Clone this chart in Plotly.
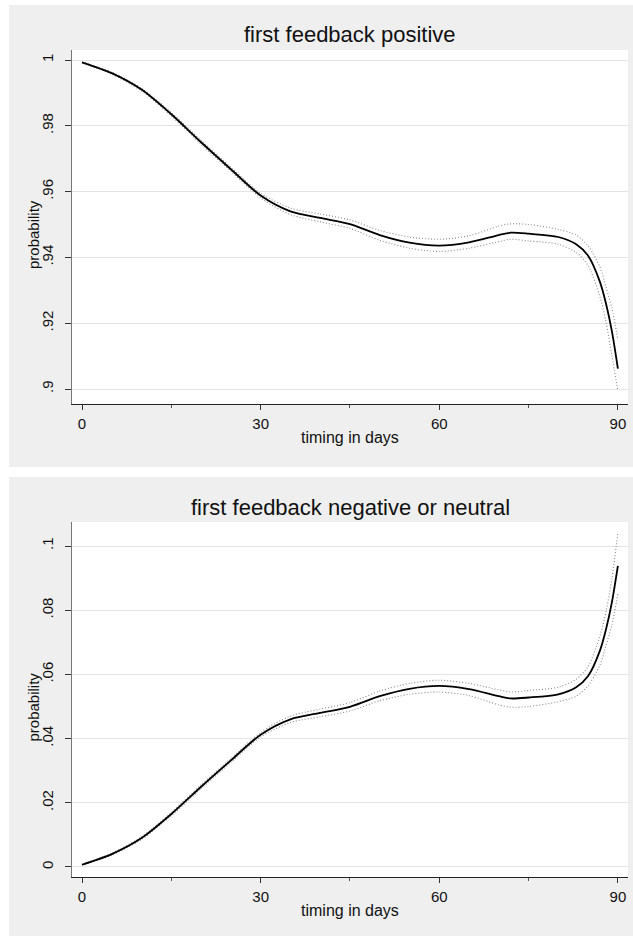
import plotly.graph_objects as go

# ---------------- data ----------------
days = [0, 5, 10, 15, 20, 25, 30, 35, 40, 45, 50, 55, 60, 65, 70, 72, 75, 80, 83, 85, 87, 88, 89, 90]

pos_fit = [0.9993, 0.9960, 0.9910, 0.9835, 0.9750, 0.9668, 0.9588, 0.9540, 0.9520, 0.9501, 0.9468, 0.9445,
           0.9436, 0.9446, 0.9468, 0.9475, 0.9472, 0.9462, 0.9440, 0.9405, 0.9325, 0.9260, 0.9175, 0.9062]
pos_hi = [0.9994, 0.9963, 0.9914, 0.9840, 0.9756, 0.9674, 0.9595, 0.9550, 0.9532, 0.9514, 0.9482, 0.9462,
          0.9455, 0.9466, 0.9495, 0.9502, 0.9500, 0.9485, 0.9468, 0.9435, 0.9370, 0.9310, 0.9245, 0.9150]
pos_lo = [0.9992, 0.9957, 0.9906, 0.9830, 0.9744, 0.9662, 0.9581, 0.9530, 0.9508, 0.9488, 0.9452, 0.9428,
          0.9418, 0.9428, 0.9448, 0.9455, 0.9450, 0.9440, 0.9415, 0.9375, 0.9280, 0.9205, 0.9100, 0.8995]

neg_fit = [0.0007, 0.0040, 0.0090, 0.0165, 0.0250, 0.0332, 0.0412, 0.0460, 0.0480, 0.0499, 0.0532, 0.0555,
           0.0564, 0.0554, 0.0532, 0.0525, 0.0528, 0.0538, 0.0560, 0.0595, 0.0675, 0.0740, 0.0825, 0.0938]
neg_hi = [0.0008, 0.0043, 0.0094, 0.0170, 0.0256, 0.0338, 0.0419, 0.0470, 0.0492, 0.0512, 0.0548, 0.0572,
          0.0582, 0.0572, 0.0552, 0.0545, 0.0550, 0.0560, 0.0585, 0.0625, 0.0720, 0.0795, 0.0900, 0.1040]
neg_lo = [0.0006, 0.0037, 0.0086, 0.0160, 0.0244, 0.0326, 0.0405, 0.0450, 0.0468, 0.0486, 0.0518, 0.0538,
          0.0545, 0.0534, 0.0505, 0.0498, 0.0500, 0.0515, 0.0532, 0.0565, 0.0630, 0.0690, 0.0755, 0.0850]

x_ticks = [0, 30, 60, 90]
pos_yticks = [0.9, 0.92, 0.94, 0.96, 0.98, 1.0]
pos_ylabels = [".9", ".92", ".94", ".96", ".98", "1"]
neg_yticks = [0, 0.02, 0.04, 0.06, 0.08, 0.1]
neg_ylabels = ["0", ".02", ".04", ".06", ".08", ".1"]

titles = ["first feedback positive", "first feedback negative or neutral"]
x_title = "timing in days"
y_title = "probability"

# ---------------- figure ----------------
W, H = 633, 936
FONT = "Liberation Sans, Arial, Helvetica, sans-serif"
GRAY_BG = "#efefef"

def px(v):
    return v / W

def py(v):
    return 1 - v / H

fig = go.Figure()

panels = [
    dict(fit=pos_fit, hi=pos_hi, lo=pos_lo, xa="x", ya="y"),
    dict(fit=neg_fit, hi=neg_hi, lo=neg_lo, xa="x2", ya="y2"),
]
for p in panels:
    for band in (p["hi"], p["lo"]):
        fig.add_trace(go.Scatter(x=days, y=band, mode="lines",
                                 line=dict(color="#8a8a8a", width=1.1, dash="1px,2px", shape="spline", smoothing=0.8),
                                 xaxis=p["xa"], yaxis=p["ya"], showlegend=False, hoverinfo="skip"))
    fig.add_trace(go.Scatter(x=days, y=p["fit"], mode="lines",
                             line=dict(color="black", width=1.8, shape="spline", smoothing=0.8),
                             xaxis=p["xa"], yaxis=p["ya"], showlegend=False))

# plot-area geometry (pixels)
plot_x0, plot_x1 = 72, 628
top_y0, top_y1 = 50, 404
bot_y0, bot_y1 = 522, 877

xdom = [px(plot_x0), px(plot_x1)]
xrange_ = [-1.68, 91.7]

TICK_FONT = dict(family=FONT, size=15, color="#111")
common_x = dict(range=xrange_, tickvals=x_ticks, ticks="outside", ticklen=5, tickwidth=1, tickcolor="#333",
                showline=True, linecolor="#222", linewidth=1.3, showgrid=False, zeroline=False,
                tickfont=TICK_FONT, ticklabelstandoff=1,
                minor=dict(ticks="outside", dtick=15, ticklen=3, tickcolor="#555", showgrid=False))
common_y = dict(ticks="outside", ticklen=6, tickwidth=1, tickcolor="#333", tickangle=-90,
                showline=True, linecolor="#777", linewidth=1.3, showgrid=True, gridcolor="#e4e4e4", gridwidth=1,
                zeroline=False, tickfont=TICK_FONT, ticklabelstandoff=6)

fig.update_layout(
    width=W, height=H, margin=dict(l=0, r=0, t=0, b=0),
    paper_bgcolor="white", plot_bgcolor="white",
    font=dict(family=FONT, color="#111"),
    xaxis=dict(domain=xdom, anchor="y", **common_x),
    yaxis=dict(domain=[py(top_y1), py(top_y0)], anchor="x", range=[0.89544, 1.00304],
               tickvals=pos_yticks, ticktext=pos_ylabels, **common_y),
    xaxis2=dict(domain=xdom, anchor="y2", **common_x),
    yaxis2=dict(domain=[py(bot_y1), py(bot_y0)], anchor="x2", range=[-0.00312, 0.10748],
                tickvals=neg_yticks, ticktext=neg_ylabels, **common_y),
)

# grey outer panels + white plot areas
for (g0, g1), (a0, a1) in [((5, 467), (top_y0, top_y1)), ((477, 936), (bot_y0, bot_y1))]:
    fig.add_shape(type="rect", xref="paper", yref="paper", x0=px(9), x1=1, y0=py(g1), y1=py(g0),
                  fillcolor=GRAY_BG, line=dict(width=0), layer="below")
    fig.add_shape(type="rect", xref="paper", yref="paper", x0=px(plot_x0), x1=px(plot_x1), y0=py(a1), y1=py(a0),
                  fillcolor="white", line=dict(width=0), layer="below")

# titles and axis titles
cx = px((plot_x0 + plot_x1) / 2)
for title, ty, xt_y, (a0, a1) in [(titles[0], 35, 437, (top_y0, top_y1)), (titles[1], 508, 910, (bot_y0, bot_y1))]:
    fig.add_annotation(text=title, x=cx, y=py(ty), xref="paper", yref="paper", showarrow=False,
                       xanchor="center", yanchor="middle", font=dict(family=FONT, size=22, color="#111"))
    fig.add_annotation(text=x_title, x=cx, y=py(xt_y), xref="paper", yref="paper", showarrow=False,
                       xanchor="center", yanchor="middle", font=dict(family=FONT, size=16, color="#111"))
    fig.add_annotation(text=y_title, x=px(33), y=py((a0 + a1) / 2 + 8), xref="paper", yref="paper", showarrow=False,
                       textangle=-90, xanchor="center", yanchor="middle", font=dict(family=FONT, size=15, color="#111"))

fig.write_html("out.html", config={"displayModeBar": False},
               post_script="document.body.style.margin='0px';document.body.style.overflow='hidden';")
